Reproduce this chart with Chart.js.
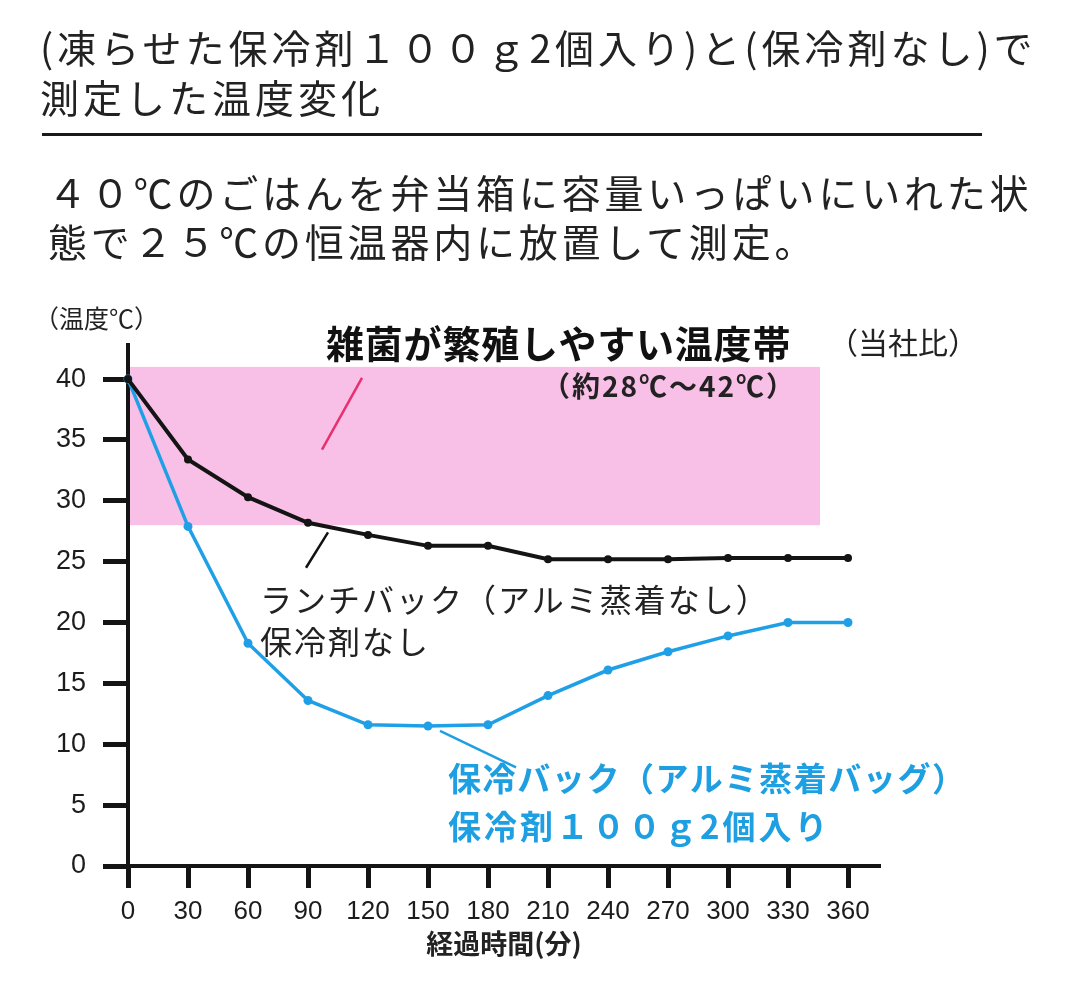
<!DOCTYPE html>
<html lang="ja">
<head>
<meta charset="utf-8">
<script src="https://cdn.jsdelivr.net/npm/chart.js@4.4.1/dist/chart.umd.min.js"></script>
<style>
  html, body { margin: 0; padding: 0; background: #fff; }
  body { width: 1065px; height: 1000px; position: relative; overflow: hidden;
         font-family: "Noto Sans CJK JP", "Noto Sans", sans-serif; color: #222; }
  #wrap { position: absolute; left: 0; top: 0; width: 1065px; height: 1000px; }
  .t { position: absolute; white-space: nowrap; line-height: 1; }
  .rule { position: absolute; left: 42px; top: 133px; width: 940px; height: 3px; background: #1a1a1a; }
</style>
</head>
<body>
<div id="wrap"><canvas id="c" width="1065" height="1000"></canvas></div>

<div class="t" style="left:40px; top:27px; font-size:39px; letter-spacing:4px;">(凍らせた保冷剤１００ｇ2個入り)と(保冷剤なし)で</div>
<div class="t" style="left:40px; top:77px; font-size:39px; letter-spacing:4px;">測定した温度変化</div>
<div class="rule"></div>
<div class="t" style="left:48px; top:172px; font-size:39px; letter-spacing:3.8px;">４０℃のごはんを弁当箱に容量いっぱいにいれた状</div>
<div class="t" style="left:48px; top:221px; font-size:39px; letter-spacing:3.8px;">態で２５℃の恒温器内に放置して測定。</div>

<div class="t" style="left:34px; top:305px; font-size:25px;">（温度℃）</div>
<div class="t" style="left:326px; top:323px; font-size:38px; font-weight:bold; color:#111; letter-spacing:0.8px;">雑菌が繁殖しやすい温度帯</div>
<div class="t" style="left:828px; top:326px; font-size:30px;">（当社比）</div>
<div class="t" style="left:542px; top:371px; font-size:28px; font-weight:bold; color:#222; letter-spacing:2px;">（約28℃～42℃）</div>

<div class="t" style="left:260px; top:582px; font-size:32px; letter-spacing:2px;">ランチバック（アルミ蒸着なし）</div>
<div class="t" style="left:260px; top:624px; font-size:32px; letter-spacing:2px;">保冷剤なし</div>

<div class="t" style="left:448px; top:761px; font-size:33px; font-weight:bold; color:#1e9fe2; letter-spacing:1.6px;">保冷バック（アルミ蒸着バッグ）</div>
<div class="t" style="left:448px; top:809px; font-size:33px; font-weight:bold; color:#1e9fe2; letter-spacing:3px;">保冷剤１００ｇ2個入り</div>

<script>
// ---- data ----
const minutes = [0, 30, 60, 90, 120, 150, 180, 210, 240, 270, 300, 330, 360];
const noPackTemps = [40, 33.4, 30.3, 28.2, 27.2, 26.3, 26.3, 25.2, 25.2, 25.2, 25.3, 25.3, 25.3];
const coolerTemps = [40, 27.9, 18.3, 13.6, 11.6, 11.5, 11.6, 14.0, 16.1, 17.6, 18.9, 20.0, 20.0];
const yTickValues = [0, 5, 10, 15, 20, 25, 30, 35, 40];
const xTickValues = [0, 30, 60, 90, 120, 150, 180, 210, 240, 270, 300, 330, 360];
const bandLow = 28;
const bandHigh = 41;
const bandEndMinute = 346;

// callout leader lines in data units [x1, y1, x2, y2]
const leaderPink = [97, 34.2, 117, 40.1];
const leaderBlack = [100, 27.4, 89, 24.5];
const leaderBlue = [156, 11.1, 194, 8.1];

const toXY = (xs, ys) => xs.map((x, i) => ({ x: x, y: ys[i] }));

const bandPlugin = {
  id: 'band',
  beforeDraw(chart) {
    const { ctx, scales: { x, y } } = chart;
    const x0 = x.getPixelForValue(0) + 2;
    const x1 = x.getPixelForValue(bandEndMinute);
    const y0 = y.getPixelForValue(bandHigh);
    const y1 = y.getPixelForValue(bandLow);
    ctx.save();
    ctx.fillStyle = '#f8bfe7';
    ctx.fillRect(x0, y0, x1 - x0, y1 - y0);
    ctx.restore();
  },
  afterDatasetsDraw(chart) {
    const { ctx, scales: { x, y } } = chart;
    const line = (seg, color, w) => {
      ctx.save();
      ctx.strokeStyle = color;
      ctx.lineWidth = w;
      ctx.beginPath();
      ctx.moveTo(x.getPixelForValue(seg[0]), y.getPixelForValue(seg[1]));
      ctx.lineTo(x.getPixelForValue(seg[2]), y.getPixelForValue(seg[3]));
      ctx.stroke();
      ctx.restore();
    };
    line(leaderPink, '#e8306e', 2.5);
    line(leaderBlack, '#111', 2.5);
    line(leaderBlue, '#1e9fe2', 2.5);
  }
};

new Chart(document.getElementById('c'), {
  type: 'line',
  data: {
    datasets: [
      {
        label: 'ランチバック（アルミ蒸着なし）保冷剤なし',
        data: toXY(minutes, noPackTemps),
        borderColor: '#141414',
        backgroundColor: '#141414',
        borderWidth: 4,
        pointRadius: 4,
        pointBorderWidth: 0,
        tension: 0,
        clip: false
      },
      {
        label: '保冷バック（アルミ蒸着バッグ）保冷剤１００ｇ2個入り',
        data: toXY(minutes, coolerTemps),
        borderColor: '#1fa0e6',
        backgroundColor: '#1fa0e6',
        borderWidth: 3.5,
        pointRadius: 4.5,
        pointBorderWidth: 0,
        tension: 0,
        clip: false
      }
    ]
  },
  options: {
    responsive: false,
    animation: false,
    events: [],
    layout: { padding: { left: 0, top: 345, right: 185, bottom: 40 } },
    plugins: { legend: { display: false }, tooltip: { enabled: false }, title: { display: false } },
    scales: {
      x: {
        type: 'linear',
        min: 0,
        max: 376,
        afterBuildTicks: (s) => { s.ticks = xTickValues.map(v => ({ value: v })); },
        afterFit: (s) => { s.height = 94; },
        grid: { drawOnChartArea: false, drawTicks: true, tickLength: 22, tickWidth: 5, tickColor: '#141414' },
        border: { display: true, width: 4, color: '#141414' },
        ticks: { autoSkip: false, maxRotation: 0, padding: 8, color: '#1c1c1c',
                 font: { family: 'Liberation Sans, Arial, sans-serif', size: 26 } },
        title: { display: true, text: '経過時間(分)', color: '#222', padding: { top: 2, bottom: 0 },
                 font: { family: 'Noto Sans CJK JP', size: 27, weight: 'bold' } }
      },
      y: {
        type: 'linear',
        min: 0,
        max: 42.8,
        afterBuildTicks: (s) => { s.ticks = yTickValues.map(v => ({ value: v })); },
        afterFit: (s) => { s.width = 128; },
        grid: { drawOnChartArea: false, drawTicks: true, tickLength: 25, tickWidth: 5, tickColor: '#141414' },
        border: { display: true, width: 4, color: '#141414' },
        ticks: { padding: 17, color: '#1c1c1c',
                 font: { family: 'Liberation Sans, Arial, sans-serif', size: 27 } }
      }
    }
  },
  plugins: [bandPlugin]
});
</script>
</body>
</html>
